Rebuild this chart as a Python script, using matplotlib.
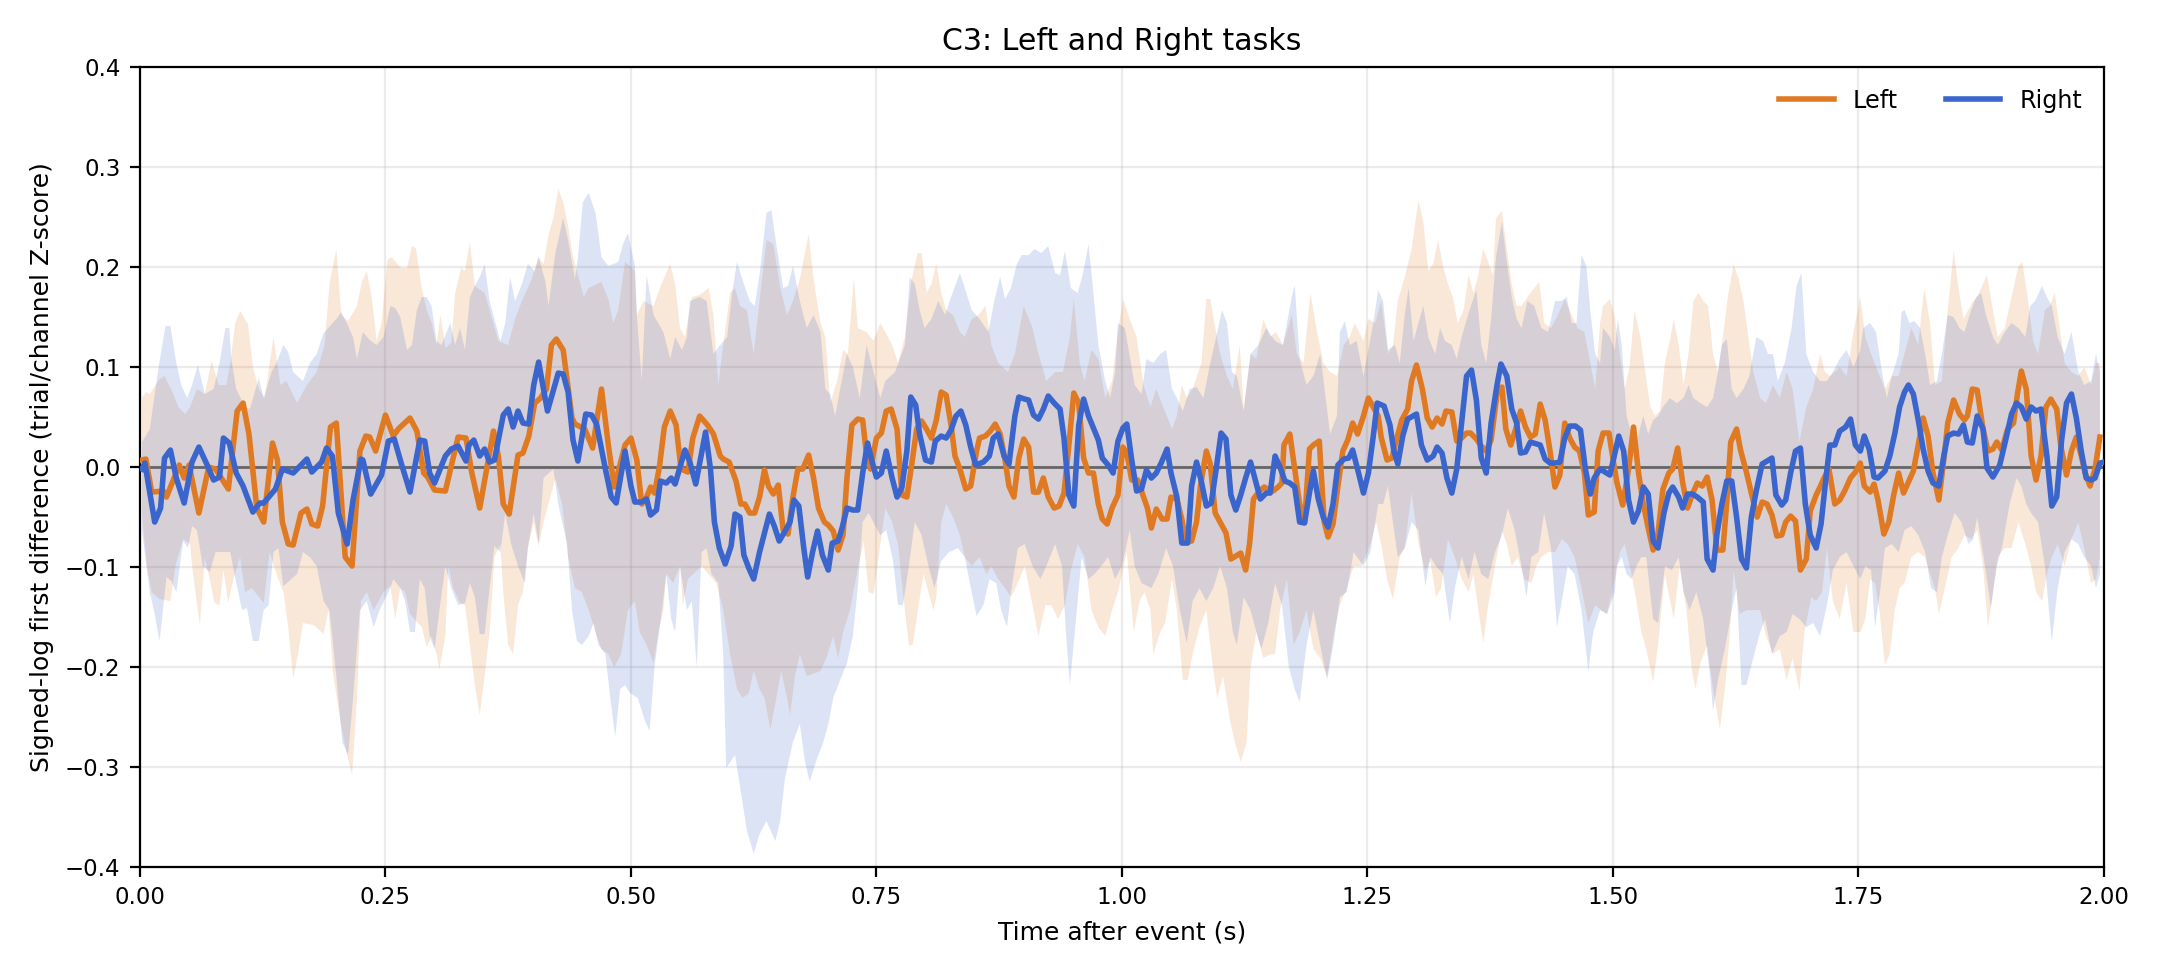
import numpy as np
import matplotlib
matplotlib.use("Agg")
import matplotlib.pyplot as plt

# ---------------- data ----------------
left_t = [0.002,0.006,0.012,0.024,0.027,0.040,0.045,0.050,0.060,0.070,0.077,0.090,0.099,0.105,0.111,0.119,0.126,0.135,0.140,0.145,0.151,0.156,0.164,0.170,0.175,0.181,0.186,0.194,0.200,0.209,0.216,0.224,0.230,0.234,0.240,
0.243,0.250,0.258,0.263,0.275,0.282,0.289,0.293,0.300,0.311,0.324,0.332,0.338,0.346,0.352,0.360,0.365,0.370,0.376,0.385,0.390,0.396,0.402,0.408,0.414,0.419,0.424,0.431,0.440,0.443,0.453,0.461,0.470,0.477,0.483,0.494,0.500,
0.506,0.511,0.516,0.520,0.524,0.529,0.534,0.540,0.546,0.551,0.558,0.563,0.570,0.578,0.584,0.591,0.594,0.600,0.607,0.612,0.616,0.621,0.626,0.631,0.636,0.640,0.645,0.650,0.655,0.660,0.665,0.670,0.675,0.681,0.686,0.691,0.697,0.701,0.706,0.711,0.716,0.720,0.725,0.731,0.736,0.740,0.744,
0.750,0.755,0.760,0.765,0.771,0.776,0.781,0.786,0.791,0.796,0.801,0.806,0.811,0.816,0.821,0.826,0.830,0.835,0.841,0.846,0.852,0.855,0.861,0.866,0.871,0.876,0.881,0.885,0.890,0.895,0.900,0.905,0.910,0.915,0.920,0.925,0.931,0.936,0.941,0.946,0.951,0.956,0.961,0.966,0.971,0.976,0.980,0.985,0.990,0.996,
1.001,1.005,1.010,1.016,1.022,1.026,1.030,1.035,1.041,1.046,1.050,1.056,1.061,1.065,1.071,1.076,1.080,1.086,1.090,1.095,1.100,1.106,1.111,1.116,1.121,1.126,1.130,1.134,1.140,1.145,1.150,1.154,1.159,1.163,1.165,1.171,1.176,1.181,1.186,1.191,1.195,1.201,1.206,1.210,1.215,1.220,1.225,1.230,1.235,1.240,
1.246,1.251,1.256,1.261,1.264,1.270,1.275,1.280,1.285,1.291,1.295,1.300,1.306,1.311,1.316,1.321,1.326,1.330,1.336,1.341,1.346,1.351,1.355,1.361,1.366,1.371,1.376,1.382,1.387,1.391,1.396,1.401,1.406,1.411,1.416,1.421,1.426,1.431,1.436,1.441,1.446,1.451,1.456,1.461,1.466,1.471,1.475,1.481,1.485,1.490,1.496,
1.500,1.504,1.510,1.516,1.521,1.526,1.531,1.536,1.541,1.546,1.551,1.557,1.561,1.566,1.571,1.576,1.581,1.586,1.591,1.596,1.601,1.606,1.612,1.616,1.620,1.626,1.630,1.636,1.641,1.647,1.652,1.657,1.662,1.667,1.672,1.676,1.681,1.686,1.691,1.697,1.701,1.707,1.711,1.715,1.720,1.726,1.731,1.736,1.742,1.747,
1.752,1.756,1.762,1.766,1.770,1.776,1.781,1.786,1.791,1.796,1.801,1.806,1.811,1.816,1.821,1.826,1.832,1.837,1.841,1.847,1.853,1.858,1.861,1.866,1.871,1.877,1.882,1.887,1.891,1.896,1.902,1.908,1.912,1.916,1.921,1.926,1.931,1.936,1.941,1.946,1.952,1.956,1.962,1.967,1.972,1.977,1.981,1.986,1.991,1.996]
left_mean = [0.007,0.008,-0.025,-0.024,-0.030,0.002,-0.011,0.002,-0.046,0.000,-0.002,-0.022,0.056,0.064,0.033,-0.041,-0.055,0.024,0.007,-0.055,-0.077,-0.078,-0.046,-0.042,-0.057,-0.059,-0.039,0.040,0.044,-0.090,-0.099,0.016,0.031,0.030,0.016,
0.027,0.052,0.031,0.038,0.049,0.036,-0.006,-0.010,-0.023,-0.024,0.030,0.029,-0.006,-0.041,-0.008,0.036,0.011,-0.037,-0.047,0.012,0.014,0.031,0.064,0.069,0.078,0.122,0.128,0.117,0.049,0.043,0.038,0.019,0.078,0.022,-0.020,0.022,0.029,
0.007,-0.037,-0.030,-0.020,-0.026,0.000,0.040,0.056,0.042,-0.002,-0.005,0.029,0.051,0.042,0.033,0.011,0.008,0.005,-0.014,-0.037,-0.037,-0.046,-0.046,-0.030,-0.003,-0.019,-0.027,-0.018,-0.063,-0.067,-0.030,-0.002,-0.002,0.012,-0.011,-0.041,-0.055,-0.058,-0.064,-0.083,-0.068,-0.011,0.042,0.048,0.047,0.011,-0.002,
0.029,0.034,0.056,0.058,0.038,-0.028,-0.030,0.003,0.038,0.046,0.038,0.029,0.047,0.075,0.072,0.042,0.011,-0.002,-0.022,-0.019,0.016,0.029,0.031,0.036,0.043,0.033,0.007,-0.019,-0.030,0.009,0.028,0.020,-0.025,-0.025,-0.011,-0.030,-0.041,-0.039,-0.026,0.022,0.074,0.064,0.009,-0.006,-0.006,-0.037,-0.052,-0.057,-0.041,-0.028,
0.020,0.014,-0.013,-0.013,-0.030,-0.041,-0.061,-0.042,-0.052,-0.052,-0.030,-0.032,-0.052,-0.074,-0.074,-0.055,-0.019,0.016,0.003,-0.046,-0.055,-0.066,-0.092,-0.089,-0.086,-0.103,-0.077,-0.032,-0.024,-0.020,-0.023,-0.024,-0.020,-0.016,0.022,0.033,-0.002,-0.037,-0.055,0.018,0.022,0.026,-0.055,-0.070,-0.057,-0.019,0.016,0.027,0.044,0.033,
0.051,0.069,0.060,0.051,0.030,0.007,0.009,0.029,0.047,0.058,0.086,0.102,0.078,0.049,0.040,0.049,0.043,0.056,0.055,0.026,0.029,0.034,0.034,0.028,0.021,0.016,0.027,0.073,0.080,0.038,0.022,0.038,0.056,0.040,0.030,0.033,0.063,0.047,0.016,-0.020,-0.008,0.044,0.029,0.020,0.016,-0.006,-0.048,-0.045,0.016,0.034,0.034,
0.009,-0.015,-0.038,-0.002,0.040,-0.005,-0.037,-0.061,-0.083,-0.066,-0.022,-0.006,-0.002,0.019,-0.015,-0.041,-0.027,-0.016,-0.019,-0.010,-0.033,-0.083,-0.083,-0.035,0.025,0.038,0.017,-0.005,-0.026,-0.050,-0.035,-0.037,-0.048,-0.069,-0.068,-0.055,-0.049,-0.054,-0.103,-0.092,-0.044,-0.028,-0.020,-0.011,-0.002,-0.037,-0.033,-0.024,-0.011,-0.005,
0.004,-0.019,-0.025,-0.017,-0.033,-0.067,-0.055,-0.028,-0.006,-0.026,-0.015,-0.004,0.022,0.049,0.031,-0.006,-0.033,0.007,0.044,0.067,0.053,0.047,0.051,0.078,0.077,0.038,0.016,0.018,0.025,0.017,0.038,0.044,0.073,0.096,0.078,0.011,-0.013,0.011,0.060,0.068,0.058,0.022,-0.008,0.016,0.030,0.011,-0.006,-0.019,-0.002,0.030]

right_t = [0.002,0.005,0.015,0.021,0.025,0.031,0.037,0.045,0.053,0.060,0.068,0.075,0.081,0.085,0.091,0.098,0.105,0.115,0.122,0.126,0.138,0.145,0.156,0.170,0.175,0.185,0.190,0.196,0.202,0.211,0.217,0.225,0.227,0.235,0.246,
0.253,0.259,0.266,0.275,0.285,0.290,0.295,0.300,0.311,0.317,0.324,0.332,0.335,0.340,0.346,0.351,0.356,0.361,0.370,0.375,0.380,0.385,0.390,0.396,0.401,0.406,0.415,0.426,0.431,0.436,0.441,0.446,0.454,0.460,0.465,0.474,0.480,0.485,0.494,0.500,0.504,
0.511,0.516,0.520,0.526,0.530,0.536,0.541,0.545,0.555,0.560,0.566,0.576,0.581,0.585,0.590,0.596,0.602,0.606,0.611,0.615,0.620,0.625,0.631,0.641,0.646,0.651,0.657,0.662,0.666,0.671,0.676,0.680,0.685,0.690,0.695,0.701,0.705,0.711,0.715,0.720,0.726,0.731,0.736,0.741,0.746,0.750,
0.755,0.760,0.766,0.771,0.776,0.781,0.785,0.790,0.794,0.800,0.806,0.810,0.816,0.821,0.826,0.831,0.836,0.841,0.846,0.851,0.859,0.865,0.869,0.874,0.880,0.885,0.891,0.895,0.901,0.905,0.910,0.915,0.920,0.925,0.931,0.937,0.941,0.946,0.951,0.956,0.961,0.966,0.971,0.976,0.980,0.986,0.991,
0.996,1.001,1.005,1.010,1.015,1.020,1.025,1.030,1.035,1.040,1.046,1.050,1.056,1.061,1.067,1.071,1.076,1.081,1.086,1.091,1.096,1.101,1.106,1.111,1.116,1.121,1.126,1.131,1.137,1.141,1.147,1.151,1.156,1.161,1.166,1.171,1.176,1.181,1.186,1.191,1.195,1.200,1.205,1.210,1.215,1.220,1.226,1.231,1.235,1.241,1.246,
1.251,1.256,1.260,1.267,1.273,1.277,1.281,1.286,1.291,1.300,1.305,1.311,1.317,1.321,1.326,1.331,1.336,1.341,1.346,1.351,1.356,1.361,1.366,1.371,1.376,1.382,1.386,1.392,1.397,1.402,1.406,1.411,1.416,1.426,1.431,1.436,1.441,1.446,1.451,1.456,1.462,1.467,1.472,1.477,1.481,1.487,1.492,1.497,
1.506,1.511,1.516,1.521,1.526,1.531,1.536,1.541,1.546,1.552,1.557,1.561,1.567,1.571,1.576,1.581,1.586,1.592,1.596,1.602,1.606,1.611,1.616,1.621,1.626,1.631,1.636,1.641,1.646,1.652,1.662,1.666,1.672,1.676,1.681,1.686,1.691,1.696,1.701,1.707,1.712,1.717,1.721,1.726,1.731,1.737,1.742,1.747,1.752,
1.756,1.761,1.766,1.770,1.777,1.782,1.787,1.792,1.797,1.801,1.806,1.811,1.816,1.821,1.826,1.832,1.837,1.841,1.847,1.852,1.857,1.861,1.866,1.871,1.877,1.881,1.887,1.894,1.900,1.906,1.911,1.916,1.921,1.926,1.931,1.936,1.942,1.947,1.952,1.957,1.962,1.967,1.972,1.977,1.982,1.987,1.991,1.996,2.000]
right_mean = [-0.002,0.004,-0.055,-0.041,0.009,0.017,-0.011,-0.036,0.005,0.020,0.003,-0.013,-0.010,0.029,0.024,-0.006,-0.019,-0.045,-0.036,-0.036,-0.022,-0.002,-0.006,0.008,-0.005,0.005,0.019,0.011,-0.046,-0.077,-0.033,0.008,0.007,-0.027,-0.008,
0.026,0.028,0.004,-0.025,0.027,0.026,-0.006,-0.016,0.011,0.018,0.021,0.006,0.022,0.027,0.011,0.018,0.005,0.007,0.052,0.058,0.040,0.056,0.044,0.043,0.082,0.105,0.056,0.094,0.093,0.075,0.027,0.006,0.053,0.052,0.043,-0.002,-0.030,-0.036,0.016,-0.019,-0.035,
-0.035,-0.032,-0.048,-0.043,-0.014,-0.016,-0.011,-0.017,0.017,0.005,-0.017,0.035,-0.002,-0.055,-0.081,-0.097,-0.079,-0.047,-0.050,-0.088,-0.101,-0.112,-0.085,-0.047,-0.059,-0.074,-0.064,-0.055,-0.033,-0.039,-0.081,-0.110,-0.085,-0.064,-0.088,-0.103,-0.076,-0.074,-0.061,-0.041,-0.043,-0.043,-0.006,0.024,0.004,-0.010,
-0.006,0.016,-0.011,-0.030,-0.020,0.016,0.070,0.062,0.033,0.007,0.005,0.026,0.031,0.029,0.037,0.051,0.056,0.042,0.020,0.002,0.005,0.011,0.029,0.033,0.011,0.003,0.051,0.070,0.068,0.067,0.052,0.048,0.058,0.071,0.064,0.058,0.029,-0.028,-0.039,0.042,0.068,0.051,0.039,0.027,0.009,0.002,-0.006,
0.026,0.039,0.043,0.007,-0.024,-0.022,-0.003,-0.011,-0.006,0.004,0.018,-0.006,-0.030,-0.076,-0.076,-0.019,0.005,-0.015,-0.039,-0.036,-0.002,0.034,0.028,-0.028,-0.043,-0.028,-0.011,0.005,-0.017,-0.032,-0.026,-0.026,0.011,0.000,-0.014,-0.016,-0.020,-0.055,-0.056,-0.026,-0.004,-0.032,-0.050,-0.060,-0.037,0.002,0.008,0.009,0.017,-0.006,-0.026,
-0.006,0.031,0.064,0.061,0.042,0.016,0.003,0.031,0.048,0.053,0.022,0.007,0.011,0.020,0.014,-0.011,-0.026,-0.002,0.044,0.091,0.097,0.067,0.009,-0.006,0.044,0.082,0.103,0.091,0.058,0.044,0.014,0.015,0.025,0.022,0.008,0.004,0.004,0.005,0.029,0.041,0.041,0.037,-0.002,-0.027,-0.011,-0.002,-0.005,-0.008,
0.031,0.016,-0.033,-0.055,-0.044,-0.020,-0.027,-0.074,-0.081,-0.046,-0.026,-0.020,-0.030,-0.041,-0.027,-0.027,-0.030,-0.035,-0.092,-0.103,-0.067,-0.037,-0.014,-0.014,-0.050,-0.092,-0.101,-0.050,-0.024,0.003,0.009,-0.028,-0.038,-0.033,-0.006,0.016,0.019,-0.037,-0.068,-0.081,-0.057,-0.011,0.022,0.022,0.036,0.040,0.048,0.022,0.016,
0.031,0.018,-0.010,-0.011,-0.004,0.011,0.033,0.060,0.075,0.082,0.073,0.047,0.018,-0.004,-0.016,-0.019,0.011,0.031,0.034,0.033,0.042,0.025,0.024,0.051,0.038,-0.001,-0.010,0.002,0.027,0.053,0.064,0.060,0.048,0.060,0.056,0.058,0.011,-0.039,-0.030,0.027,0.064,0.073,0.049,0.016,-0.011,-0.013,-0.011,0.004,0.005]

left_upper_t = [0.002,0.006,0.010,0.019,0.025,0.034,0.039,0.046,0.051,0.058,0.066,0.073,0.080,0.088,0.092,0.097,0.102,0.110,0.115,0.121,0.127,0.136,0.143,0.149,0.160,0.170,0.180,0.188,0.193,0.200,0.205,0.212,0.221,0.226,0.231,0.236,0.241,0.246,0.252,
0.256,0.266,0.272,0.277,0.281,0.287,0.292,0.297,0.302,0.306,0.311,0.317,0.321,0.327,0.331,0.336,0.341,0.351,0.356,0.365,0.375,0.382,0.389,0.399,0.406,0.411,0.416,0.421,0.426,0.431,0.436,0.441,0.445,0.452,0.457,0.470,0.477,0.482,0.487,0.494,0.499,0.504,
0.506,0.513,0.523,0.531,0.540,0.545,0.550,0.555,0.562,0.570,0.579,0.584,0.589,0.594,0.601,0.606,0.611,0.618,0.625,0.631,0.638,0.645,0.652,0.659,0.665,0.672,0.681,0.686,0.693,0.698,0.703,0.710,0.716,0.721,0.727,0.731,0.740,0.747,0.754,
0.760,0.766,0.772,0.779,0.786,0.792,0.796,0.801,0.806,0.811,0.816,0.821,0.828,0.835,0.840,0.847,0.854,0.861,0.867,0.874,0.884,0.891,0.900,0.909,0.915,0.923,0.932,0.940,0.947,0.951,0.957,0.962,0.969,0.976,0.983,0.990,0.996,
1.001,1.008,1.015,1.022,1.029,1.035,1.042,1.051,1.056,1.061,1.066,1.072,1.081,1.086,1.090,1.095,1.100,1.107,1.113,1.120,1.124,1.131,1.137,1.144,1.151,1.157,1.164,1.173,1.178,1.185,1.192,1.198,1.205,1.212,1.219,1.226,1.232,1.237,1.246,
1.251,1.258,1.264,1.271,1.276,1.281,1.288,1.295,1.302,1.307,1.312,1.317,1.322,1.327,1.332,1.337,1.342,1.348,1.353,1.358,1.363,1.368,1.373,1.378,1.381,1.387,1.392,1.397,1.402,1.407,1.413,1.420,1.425,1.430,1.437,1.444,1.451,1.458,1.464,1.471,1.477,1.482,1.487,1.490,1.497,1.502,
1.507,1.512,1.517,1.522,1.528,1.533,1.538,1.543,1.548,1.553,1.558,1.562,1.567,1.572,1.577,1.582,1.587,1.592,1.597,1.602,1.607,1.612,1.617,1.623,1.628,1.633,1.638,1.643,1.650,1.656,1.663,1.670,1.677,1.683,1.690,1.697,1.704,1.711,1.716,1.721,1.726,1.731,1.738,1.745,1.752,
1.757,1.763,1.770,1.777,1.784,1.791,1.797,1.804,1.811,1.817,1.823,1.828,1.835,1.841,1.847,1.852,1.857,1.862,1.867,1.871,1.877,1.881,1.887,1.892,1.899,1.906,1.913,1.917,1.923,1.928,1.933,1.940,1.945,1.950,1.955,1.960,1.967,1.974,1.980,1.987,1.992,1.996]
left_upper = [0.069,0.075,0.073,0.087,0.091,0.073,0.060,0.053,0.060,0.078,0.073,0.106,0.082,0.082,0.104,0.144,0.156,0.143,0.100,0.078,0.069,0.130,0.082,0.086,0.064,0.082,0.095,0.122,0.183,0.218,0.152,0.146,0.161,0.185,0.196,0.170,0.126,0.144,0.207,
0.210,0.199,0.199,0.221,0.219,0.179,0.157,0.144,0.122,0.152,0.119,0.124,0.174,0.199,0.196,0.225,0.181,0.174,0.157,0.126,0.122,0.148,0.166,0.188,0.210,0.203,0.232,0.249,0.278,0.265,0.241,0.210,0.196,0.170,0.179,0.185,0.168,0.144,0.157,0.205,0.201,0.196,
0.152,0.166,0.161,0.183,0.203,0.183,0.139,0.130,0.170,0.172,0.179,0.152,0.082,0.122,0.174,0.179,0.161,0.157,0.113,0.166,0.227,0.223,0.179,0.152,0.166,0.188,0.233,0.188,0.144,0.130,0.064,0.086,0.117,0.113,0.190,0.139,0.135,0.126,0.144,
0.133,0.122,0.104,0.130,0.188,0.214,0.214,0.174,0.183,0.203,0.174,0.157,0.152,0.135,0.130,0.148,0.152,0.161,0.122,0.104,0.095,0.113,0.161,0.139,0.113,0.086,0.095,0.095,0.130,0.168,0.104,0.086,0.117,0.108,0.069,0.086,0.135,
0.168,0.148,0.130,0.082,0.060,0.078,0.060,0.038,0.051,0.082,0.069,0.078,0.104,0.168,0.168,0.139,0.113,0.091,0.078,0.122,0.058,0.113,0.108,0.148,0.130,0.135,0.122,0.152,0.113,0.104,0.174,0.139,0.104,0.095,0.091,0.122,0.130,0.144,0.126,
0.148,0.144,0.166,0.113,0.122,0.166,0.190,0.218,0.267,0.245,0.196,0.203,0.227,0.201,0.183,0.170,0.144,0.157,0.192,0.174,0.192,0.218,0.205,0.192,0.249,0.256,0.218,0.183,0.161,0.161,0.170,0.179,0.185,0.144,0.139,0.152,0.168,0.152,0.139,0.135,0.104,0.078,0.144,0.161,0.168,0.150,
0.113,0.078,0.100,0.157,0.130,0.095,0.060,0.051,0.056,0.104,0.126,0.148,0.122,0.082,0.113,0.166,0.174,0.166,0.161,0.113,0.095,0.130,0.170,0.203,0.188,0.166,0.130,0.095,0.069,0.064,0.082,0.069,0.095,0.078,0.025,0.060,0.078,0.113,0.095,0.091,0.095,0.100,0.091,0.135,0.170,
0.130,0.113,0.095,0.078,0.091,0.091,0.113,0.139,0.122,0.179,0.144,0.082,0.086,0.157,0.216,0.179,0.148,0.157,0.166,0.170,0.183,0.192,0.157,0.130,0.139,0.170,0.201,0.205,0.166,0.126,0.113,0.157,0.161,0.174,0.139,0.104,0.095,0.091,0.100,0.082,0.104,0.104]

left_lower_t = [0.002,0.007,0.012,0.020,0.031,0.036,0.044,0.051,0.054,0.061,0.066,0.071,0.076,0.081,0.085,0.090,0.095,0.102,0.107,0.114,0.126,0.132,0.139,0.146,0.151,0.156,0.161,0.166,0.177,0.187,0.192,0.197,0.204,0.210,0.216,0.221,0.225,0.231,0.238,0.248,0.255,
0.260,0.265,0.270,0.275,0.287,0.292,0.297,0.302,0.305,0.311,0.314,0.319,0.326,0.331,0.336,0.341,0.346,0.351,0.356,0.361,0.367,0.370,0.375,0.380,0.385,0.390,0.395,0.401,0.406,0.411,0.416,0.423,0.430,0.436,0.443,0.450,0.457,0.464,0.470,0.477,0.483,0.490,0.497,0.504,
0.509,0.516,0.523,0.528,0.533,0.536,0.543,0.550,0.553,0.558,0.572,0.579,0.587,0.594,0.601,0.608,0.614,0.620,0.625,0.631,0.636,0.642,0.648,0.653,0.659,0.662,0.667,0.672,0.679,0.693,0.699,0.706,0.711,0.716,0.723,0.730,0.737,0.742,0.747,0.754,
0.759,0.766,0.772,0.777,0.783,0.787,0.793,0.798,0.803,0.808,0.811,0.816,0.821,0.828,0.835,0.840,0.847,0.855,0.862,0.867,0.874,0.881,0.887,0.894,0.901,0.909,0.915,0.922,0.928,0.935,0.942,0.948,0.955,0.962,0.969,0.976,0.983,0.990,0.996,
1.005,1.012,1.018,1.023,1.029,1.032,1.039,1.044,1.051,1.056,1.062,1.067,1.072,1.079,1.086,1.091,1.097,1.103,1.110,1.115,1.121,1.127,1.131,1.137,1.144,1.151,1.156,1.161,1.168,1.175,1.181,1.188,1.195,1.202,1.209,1.216,1.222,1.229,1.236,1.244,1.253,
1.259,1.264,1.270,1.276,1.283,1.288,1.295,1.302,1.309,1.314,1.320,1.325,1.332,1.339,1.346,1.353,1.358,1.363,1.368,1.373,1.380,1.387,1.392,1.397,1.403,1.410,1.417,1.422,1.427,1.434,1.441,1.448,1.454,1.461,1.468,1.475,1.482,1.488,1.494,1.502,
1.507,1.512,1.519,1.524,1.529,1.534,1.541,1.546,1.553,1.562,1.568,1.575,1.580,1.584,1.589,1.596,1.602,1.609,1.614,1.619,1.623,1.629,1.636,1.650,1.656,1.663,1.670,1.677,1.683,1.690,1.695,1.702,1.707,1.713,1.718,1.724,1.731,1.738,1.745,1.752,
1.757,1.762,1.767,1.772,1.777,1.782,1.787,1.792,1.797,1.804,1.811,1.818,1.823,1.828,1.832,1.838,1.845,1.852,1.858,1.865,1.871,1.877,1.882,1.887,1.892,1.899,1.906,1.913,1.920,1.926,1.931,1.937,1.942,1.947,1.953,1.960,1.967,1.974,1.980,1.987,1.992,1.996]
left_lower = [-0.046,-0.099,-0.125,-0.132,-0.134,-0.099,-0.072,-0.077,-0.107,-0.158,-0.090,-0.112,-0.136,-0.138,-0.103,-0.136,-0.112,-0.090,-0.125,-0.121,-0.136,-0.085,-0.107,-0.125,-0.160,-0.211,-0.187,-0.156,-0.158,-0.167,-0.143,-0.209,-0.253,-0.284,-0.308,-0.231,-0.134,-0.125,-0.143,-0.125,-0.119,
-0.152,-0.121,-0.125,-0.147,-0.160,-0.180,-0.169,-0.187,-0.202,-0.169,-0.099,-0.121,-0.136,-0.138,-0.178,-0.218,-0.248,-0.209,-0.165,-0.090,-0.077,-0.125,-0.178,-0.187,-0.138,-0.125,-0.081,-0.055,-0.079,-0.055,-0.037,-0.011,-0.037,-0.090,-0.121,-0.125,-0.143,-0.165,-0.182,-0.187,-0.200,-0.187,-0.143,-0.134,
-0.165,-0.178,-0.196,-0.165,-0.143,-0.107,-0.116,-0.099,-0.138,-0.112,-0.099,-0.107,-0.116,-0.143,-0.187,-0.222,-0.231,-0.226,-0.204,-0.222,-0.231,-0.262,-0.231,-0.204,-0.231,-0.248,-0.209,-0.187,-0.209,-0.204,-0.191,-0.169,-0.191,-0.165,-0.143,-0.107,-0.074,-0.125,-0.127,-0.077,
-0.041,-0.055,-0.077,-0.125,-0.178,-0.178,-0.138,-0.107,-0.125,-0.143,-0.130,-0.055,-0.037,-0.050,-0.068,-0.090,-0.099,-0.090,-0.107,-0.099,-0.112,-0.121,-0.130,-0.116,-0.099,-0.138,-0.169,-0.138,-0.138,-0.152,-0.138,-0.103,-0.077,-0.090,-0.143,-0.160,-0.169,-0.143,-0.125,
-0.085,-0.165,-0.134,-0.125,-0.143,-0.187,-0.165,-0.156,-0.112,-0.143,-0.213,-0.213,-0.187,-0.160,-0.143,-0.187,-0.231,-0.209,-0.253,-0.275,-0.295,-0.275,-0.200,-0.165,-0.191,-0.187,-0.187,-0.143,-0.112,-0.178,-0.165,-0.143,-0.182,-0.191,-0.209,-0.165,-0.138,-0.121,-0.099,-0.099,-0.077,
-0.055,-0.077,-0.112,-0.132,-0.090,-0.081,-0.026,-0.077,-0.103,-0.094,-0.130,-0.121,-0.072,-0.090,-0.112,-0.125,-0.107,-0.143,-0.176,-0.138,-0.099,-0.063,-0.077,-0.099,-0.090,-0.112,-0.116,-0.099,-0.090,-0.085,-0.085,-0.072,-0.077,-0.090,-0.121,-0.156,-0.138,-0.143,-0.147,-0.112,
-0.085,-0.077,-0.107,-0.134,-0.165,-0.182,-0.215,-0.178,-0.107,-0.152,-0.099,-0.143,-0.200,-0.222,-0.196,-0.178,-0.222,-0.262,-0.222,-0.169,-0.103,-0.147,-0.143,-0.143,-0.169,-0.187,-0.182,-0.213,-0.191,-0.224,-0.165,-0.130,-0.134,-0.125,-0.081,-0.134,-0.152,-0.116,-0.165,-0.165,
-0.152,-0.112,-0.116,-0.147,-0.198,-0.187,-0.143,-0.121,-0.116,-0.090,-0.085,-0.090,-0.107,-0.121,-0.147,-0.121,-0.090,-0.081,-0.068,-0.072,-0.063,-0.099,-0.160,-0.125,-0.090,-0.081,-0.081,-0.055,-0.077,-0.099,-0.125,-0.134,-0.107,-0.090,-0.077,-0.099,-0.072,-0.055,-0.081,-0.116,-0.112,-0.090]

right_upper_t = [0.002,0.010,0.019,0.026,0.031,0.037,0.042,0.048,0.053,0.059,0.066,0.075,0.081,0.087,0.091,0.093,0.098,0.107,0.112,0.121,0.126,0.134,0.139,0.146,0.151,0.156,0.166,0.173,0.180,0.187,0.200,0.205,0.212,0.217,0.221,0.227,0.234,0.241,0.248,0.255,
0.260,0.265,0.272,0.277,0.282,0.287,0.292,0.297,0.302,0.307,0.316,0.321,0.326,0.331,0.336,0.341,0.347,0.351,0.356,0.361,0.367,0.372,0.377,0.382,0.389,0.395,0.402,0.406,0.413,0.416,0.423,0.431,0.436,0.443,0.446,0.451,0.457,0.464,0.470,0.477,0.487,0.492,0.497,0.504,
0.506,0.511,0.516,0.523,0.533,0.540,0.545,0.552,0.557,0.560,0.570,0.577,0.584,0.591,0.598,0.603,0.608,0.615,0.621,0.626,0.631,0.638,0.643,0.648,0.655,0.660,0.665,0.672,0.679,0.686,0.693,0.698,0.703,0.708,0.713,0.720,0.726,0.733,0.740,0.747,0.754,
0.759,0.769,0.779,0.784,0.789,0.794,0.799,0.806,0.813,0.820,0.826,0.835,0.840,0.847,0.855,0.864,0.870,0.876,0.881,0.887,0.893,0.898,0.905,0.911,0.918,0.925,0.932,0.937,0.942,0.948,0.955,0.960,0.966,0.971,0.976,0.983,0.988,0.993,0.996,1.003,
1.006,1.013,1.020,1.025,1.032,1.039,1.045,1.051,1.056,1.062,1.069,1.076,1.083,1.090,1.096,1.102,1.107,1.112,1.117,1.124,1.131,1.139,1.147,1.156,1.164,1.173,1.176,1.181,1.188,1.195,1.202,1.212,1.219,1.222,1.227,1.232,1.239,1.246,
1.256,1.261,1.266,1.271,1.278,1.283,1.288,1.292,1.297,1.302,1.307,1.312,1.319,1.324,1.329,1.336,1.341,1.346,1.354,1.361,1.366,1.371,1.376,1.381,1.387,1.392,1.397,1.402,1.407,1.413,1.420,1.427,1.434,1.441,1.448,1.453,1.458,1.463,1.468,1.473,1.477,1.482,1.487,1.490,1.497,1.502,
1.505,1.509,1.514,1.519,1.524,1.531,1.536,1.541,1.546,1.551,1.558,1.565,1.572,1.577,1.582,1.589,1.596,1.602,1.607,1.611,1.616,1.621,1.626,1.633,1.639,1.646,1.653,1.658,1.663,1.668,1.675,1.682,1.687,1.692,1.697,1.704,1.711,1.718,1.724,1.731,1.738,1.745,1.752,
1.755,1.762,1.768,1.774,1.779,1.784,1.791,1.794,1.797,1.802,1.807,1.813,1.818,1.823,1.830,1.835,1.841,1.847,1.853,1.858,1.865,1.870,1.875,1.880,1.887,1.892,1.899,1.906,1.913,1.920,1.925,1.930,1.937,1.942,1.947,1.953,1.960,1.967,1.974,1.980,1.987,1.992,1.996]
right_upper = [0.025,0.038,0.100,0.141,0.141,0.104,0.082,0.069,0.082,0.102,0.073,0.078,0.104,0.139,0.139,0.108,0.078,0.060,0.058,0.089,0.069,0.095,0.104,0.122,0.115,0.095,0.086,0.104,0.113,0.134,0.148,0.155,0.141,0.130,0.108,0.135,0.127,0.122,0.130,0.161,
0.159,0.150,0.117,0.122,0.157,0.170,0.170,0.161,0.126,0.122,0.144,0.122,0.139,0.117,0.170,0.181,0.192,0.203,0.166,0.148,0.126,0.144,0.190,0.166,0.183,0.203,0.196,0.210,0.185,0.161,0.214,0.249,0.227,0.188,0.210,0.265,0.274,0.254,0.210,0.201,0.205,0.223,0.234,0.201,
0.152,0.086,0.192,0.152,0.135,0.108,0.130,0.117,0.130,0.166,0.170,0.166,0.113,0.122,0.130,0.174,0.205,0.183,0.166,0.161,0.192,0.254,0.257,0.223,0.179,0.181,0.201,0.166,0.139,0.152,0.135,0.078,0.073,0.051,0.078,0.113,0.100,0.069,0.122,0.095,0.069,
0.086,0.095,0.122,0.190,0.183,0.157,0.139,0.148,0.166,0.152,0.170,0.194,0.179,0.157,0.148,0.135,0.166,0.190,0.168,0.179,0.203,0.212,0.212,0.218,0.214,0.221,0.194,0.192,0.216,0.179,0.174,0.192,0.223,0.174,0.122,0.086,0.069,0.095,0.144,0.139,
0.122,0.082,0.073,0.108,0.104,0.113,0.117,0.078,0.069,0.056,0.078,0.080,0.069,0.104,0.130,0.157,0.144,0.095,0.091,0.056,0.113,0.122,0.139,0.126,0.122,0.170,0.182,0.108,0.082,0.091,0.113,0.033,0.051,0.135,0.146,0.122,0.126,0.091,
0.144,0.177,0.166,0.117,0.122,0.104,0.152,0.179,0.126,0.144,0.161,0.130,0.113,0.139,0.126,0.122,0.108,0.130,0.157,0.177,0.122,0.104,0.148,0.210,0.245,0.205,0.170,0.148,0.139,0.166,0.161,0.139,0.135,0.166,0.166,0.170,0.144,0.144,0.212,0.201,0.157,0.113,0.104,0.139,0.130,0.117,
0.148,0.122,0.051,0.033,0.025,0.051,0.033,0.047,0.051,0.060,0.069,0.064,0.069,0.082,0.069,0.064,0.060,0.069,0.095,0.122,0.128,0.078,0.069,0.078,0.091,0.130,0.126,0.113,0.113,0.086,0.104,0.139,0.181,0.194,0.113,0.095,0.086,0.086,0.095,0.108,0.117,0.100,0.117,
0.139,0.144,0.135,0.095,0.069,0.091,0.113,0.155,0.157,0.144,0.146,0.139,0.113,0.082,0.086,0.113,0.152,0.150,0.139,0.135,0.157,0.170,0.174,0.152,0.130,0.122,0.135,0.144,0.139,0.130,0.161,0.166,0.181,0.170,0.161,0.130,0.113,0.135,0.095,0.082,0.086,0.113,0.095]

right_lower_t = [0.002,0.010,0.015,0.020,0.027,0.032,0.037,0.044,0.049,0.053,0.058,0.064,0.071,0.077,0.092,0.098,0.104,0.109,0.115,0.121,0.126,0.131,0.136,0.141,0.146,0.160,0.166,0.173,0.180,0.187,0.193,0.200,0.206,0.212,0.217,0.224,0.231,0.238,0.244,0.255,
0.258,0.265,0.270,0.275,0.280,0.285,0.290,0.295,0.300,0.305,0.311,0.317,0.324,0.331,0.336,0.341,0.346,0.351,0.356,0.361,0.367,0.372,0.378,0.385,0.392,0.395,0.401,0.406,0.411,0.421,0.426,0.435,0.440,0.445,0.450,0.457,0.462,0.467,0.474,0.479,0.484,0.489,0.494,0.499,0.504,
0.507,0.514,0.519,0.524,0.531,0.536,0.541,0.545,0.550,0.557,0.562,0.567,0.572,0.577,0.582,0.589,0.594,0.597,0.606,0.611,0.618,0.625,0.631,0.638,0.647,0.652,0.657,0.665,0.672,0.677,0.682,0.689,0.696,0.701,0.706,0.713,0.720,0.726,0.731,0.736,0.742,0.749,0.754,
0.760,0.767,0.772,0.777,0.783,0.789,0.796,0.803,0.809,0.816,0.824,0.833,0.840,0.847,0.852,0.859,0.865,0.872,0.877,0.883,0.887,0.894,0.901,0.909,0.917,0.923,0.932,0.939,0.943,0.947,0.952,0.959,0.966,0.972,0.979,0.986,0.993,1.000,
1.008,1.013,1.020,1.030,1.037,1.045,1.052,1.059,1.066,1.072,1.079,1.086,1.093,1.100,1.107,1.113,1.117,1.124,1.131,1.137,1.142,1.149,1.156,1.163,1.170,1.176,1.181,1.188,1.195,1.202,1.209,1.216,1.222,1.229,1.236,1.246,1.253,
1.261,1.266,1.271,1.276,1.281,1.288,1.295,1.302,1.309,1.314,1.320,1.327,1.334,1.339,1.346,1.353,1.359,1.366,1.373,1.380,1.387,1.393,1.400,1.407,1.412,1.417,1.424,1.430,1.437,1.443,1.448,1.454,1.461,1.468,1.475,1.480,1.487,1.494,1.502,
1.504,1.509,1.514,1.519,1.524,1.529,1.534,1.541,1.546,1.553,1.560,1.567,1.572,1.578,1.585,1.592,1.599,1.602,1.607,1.614,1.621,1.626,1.631,1.636,1.643,1.650,1.655,1.662,1.670,1.677,1.683,1.690,1.697,1.704,1.711,1.718,1.724,1.731,1.738,1.745,1.752,
1.757,1.763,1.767,1.772,1.777,1.784,1.791,1.797,1.804,1.811,1.818,1.824,1.830,1.835,1.841,1.848,1.855,1.862,1.867,1.871,1.879,1.885,1.891,1.897,1.904,1.911,1.916,1.921,1.926,1.933,1.940,1.947,1.953,1.960,1.967,1.974,1.980,1.987,1.992,1.996]
right_lower = [-0.063,-0.125,-0.147,-0.174,-0.110,-0.114,-0.125,-0.074,-0.081,-0.059,-0.063,-0.099,-0.105,-0.085,-0.085,-0.116,-0.143,-0.141,-0.174,-0.174,-0.143,-0.138,-0.085,-0.081,-0.119,-0.107,-0.085,-0.090,-0.099,-0.134,-0.143,-0.209,-0.275,-0.288,-0.231,-0.143,-0.134,-0.160,-0.143,-0.121,
-0.112,-0.121,-0.134,-0.165,-0.165,-0.112,-0.121,-0.169,-0.182,-0.143,-0.099,-0.121,-0.138,-0.136,-0.116,-0.130,-0.167,-0.167,-0.121,-0.079,-0.085,-0.046,-0.077,-0.099,-0.116,-0.081,-0.046,-0.077,-0.011,-0.002,-0.037,-0.077,-0.143,-0.174,-0.178,-0.169,-0.156,-0.178,-0.187,-0.231,-0.270,-0.222,-0.218,-0.226,-0.229,
-0.231,-0.253,-0.264,-0.200,-0.147,-0.107,-0.152,-0.165,-0.099,-0.143,-0.134,-0.200,-0.085,-0.081,-0.107,-0.116,-0.187,-0.301,-0.288,-0.319,-0.363,-0.387,-0.367,-0.354,-0.374,-0.354,-0.310,-0.275,-0.257,-0.293,-0.315,-0.293,-0.275,-0.257,-0.231,-0.213,-0.196,-0.169,-0.121,-0.055,-0.046,-0.059,-0.068,
-0.063,-0.094,-0.138,-0.138,-0.099,-0.055,-0.068,-0.099,-0.121,-0.094,-0.085,-0.081,-0.090,-0.125,-0.149,-0.138,-0.112,-0.116,-0.143,-0.160,-0.125,-0.081,-0.077,-0.099,-0.112,-0.099,-0.077,-0.099,-0.165,-0.218,-0.165,-0.090,-0.112,-0.107,-0.099,-0.090,-0.112,-0.099,
-0.063,-0.099,-0.116,-0.121,-0.107,-0.081,-0.099,-0.143,-0.176,-0.134,-0.121,-0.134,-0.121,-0.099,-0.121,-0.165,-0.178,-0.130,-0.143,-0.165,-0.182,-0.156,-0.116,-0.138,-0.200,-0.222,-0.235,-0.178,-0.143,-0.178,-0.213,-0.174,-0.130,-0.125,-0.085,-0.099,-0.085,
-0.037,-0.037,-0.019,-0.055,-0.090,-0.081,-0.055,-0.063,-0.119,-0.090,-0.099,-0.107,-0.156,-0.121,-0.090,-0.112,-0.085,-0.107,-0.112,-0.085,-0.068,-0.041,-0.063,-0.099,-0.130,-0.090,-0.085,-0.046,-0.081,-0.160,-0.134,-0.099,-0.107,-0.143,-0.204,-0.165,-0.143,-0.147,-0.125,
-0.099,-0.090,-0.107,-0.112,-0.099,-0.090,-0.090,-0.152,-0.156,-0.099,-0.103,-0.090,-0.125,-0.143,-0.125,-0.152,-0.209,-0.244,-0.213,-0.182,-0.143,-0.121,-0.218,-0.218,-0.191,-0.165,-0.152,-0.187,-0.169,-0.165,-0.147,-0.152,-0.160,-0.156,-0.169,-0.138,-0.103,-0.090,-0.085,-0.099,-0.112,
-0.099,-0.103,-0.160,-0.125,-0.081,-0.077,-0.085,-0.063,-0.059,-0.068,-0.085,-0.121,-0.125,-0.090,-0.068,-0.046,-0.055,-0.077,-0.072,-0.050,-0.099,-0.141,-0.099,-0.077,-0.037,-0.011,-0.019,-0.037,-0.046,-0.055,-0.099,-0.174,-0.121,-0.085,-0.072,-0.077,-0.090,-0.099,-0.121,-0.107]

series_names = ["Left", "Right"]
x_ticks = [0.0, 0.25, 0.5, 0.75, 1.0, 1.25, 1.5, 1.75, 2.0]
y_ticks = [-0.4, -0.3, -0.2, -0.1, 0.0, 0.1, 0.2, 0.3, 0.4]

# ---------------- styling ----------------
c_left = "#e07a22"
c_right = "#3a65cc"

fig = plt.figure(figsize=(10.8, 4.86), dpi=200)
ax = fig.add_axes([0.0648, 0.108, 0.9092, 0.823])

def band(ax, ut, uv, lt, lv, color):
    xs = list(ut) + list(lt)[::-1]
    ys = list(uv) + list(lv)[::-1]
    ax.fill(xs, ys, color=color, alpha=0.18, lw=0, zorder=1)

band(ax, left_upper_t, left_upper, left_lower_t, left_lower, c_left)
band(ax, right_upper_t, right_upper, right_lower_t, right_lower, c_right)

ax.axhline(0, color="#666666", lw=1.0, zorder=2)
ax.plot(left_t, left_mean, color=c_left, lw=2.0, label=series_names[0], zorder=3)
ax.plot(right_t, right_mean, color=c_right, lw=2.0, label=series_names[1], zorder=4)

ax.set_xlim(0, 2)
ax.set_ylim(-0.4, 0.4)
ax.set_xticks(x_ticks)
ax.set_yticks(y_ticks)
ax.tick_params(labelsize=8.25)
ax.grid(True, color="#b0b0b0", alpha=0.25, lw=0.8)
ax.set_axisbelow(True)

ax.set_title("C3: Left and Right tasks", fontsize=10.8)
ax.set_xlabel("Time after event (s)", fontsize=9)
ax.set_ylabel("Signed-log first difference (trial/channel Z-score)", fontsize=9)
ax.legend(loc="upper right", frameon=False, ncol=2, fontsize=8.6, handlelength=2.3)

fig.savefig("out.png", dpi=200)
